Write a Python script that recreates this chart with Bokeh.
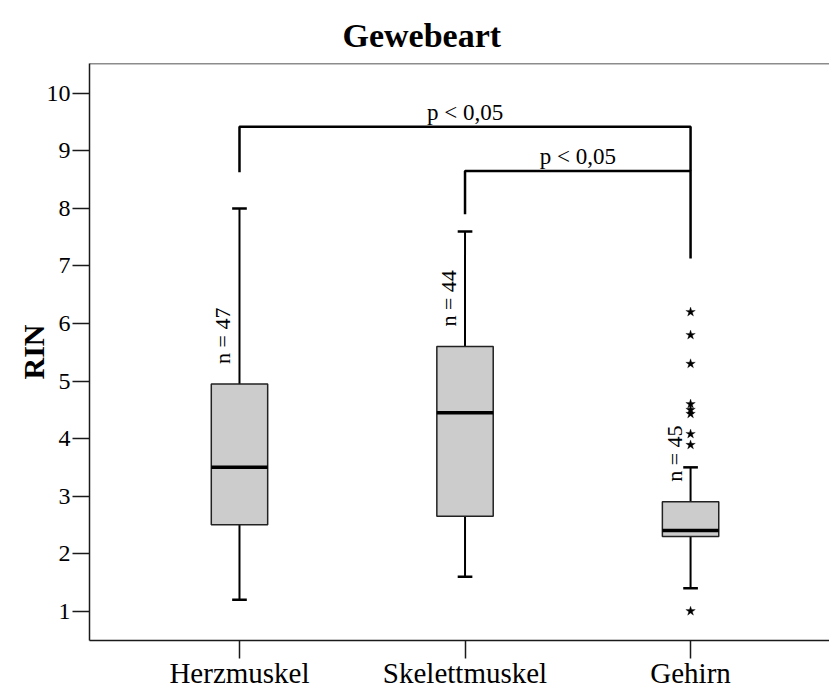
import math

from bokeh.core.properties import value
from bokeh.embed import file_html
from bokeh.models import ColumnDataSource, FixedTicker, Range1d, Span
from bokeh.plotting import figure
from bokeh.resources import INLINE

# --- data -------------------------------------------------------------------
categories = ["Herzmuskel", "Skelettmuskel", "Gehirn"]
positions = [1, 2, 3]
n_counts = [47, 44, 45]
whisker_low = [1.2, 1.6, 1.4]
q1 = [2.5, 2.65, 2.3]
median = [3.5, 4.45, 2.4]
q3 = [4.95, 5.6, 2.9]
whisker_high = [8.0, 7.6, 3.5]

# extreme values (Gehirn)
outlier_pos = [3, 3, 3, 3, 3, 3, 3, 3, 3]
outlier_values = [6.2, 5.8, 5.3, 4.6, 4.5, 4.43, 4.08, 3.89, 1.0]

y_ticks = [1, 2, 3, 4, 5, 6, 7, 8, 9, 10]
Y_MIN, Y_MAX = 0.49, 10.52
X_MIN, X_MAX = 0.335, 3.616

# significance brackets
bracket_left = [1, 2]
bracket_right = [3, 3]
bracket_top = [9.42, 8.65]
bracket_left_end = [8.63, 7.9]
bracket_right_end = [8.65, 7.13]
bracket_text = ["p < 0,05", "p < 0,05"]
bracket_text_x = [2.0, 2.5]

SERIF = "Liberation Serif"
BOX_W = 0.25
CAP_W = 0.065
INK = "#1a1a1a"

p = figure(
    width=829, height=691,
    x_range=Range1d(X_MIN, X_MAX), y_range=Range1d(Y_MIN, Y_MAX),
    output_backend="svg", toolbar_location=None,
    min_border_left=89, min_border_right=0,
    min_border_top=63, min_border_bottom=51,
)
p.background_fill_color = "white"
p.border_fill_color = "white"
p.xgrid.visible = False
p.ygrid.visible = False
p.outline_line_color = None

p.title.text = "Gewebeart"
p.title.align = "left"
p.title.offset = 253
p.title.standoff = 20
p.title.text_font = SERIF
p.title.text_font_size = "34px"
p.title.text_font_style = "bold"
p.title.text_color = "black"

# y axis
p.yaxis.ticker = FixedTicker(ticks=y_ticks)
p.yaxis.axis_label = "RIN"
p.yaxis.axis_label_text_font = SERIF
p.yaxis.axis_label_text_font_size = "30px"
p.yaxis.axis_label_text_font_style = "bold"
p.yaxis.axis_label_text_color = "black"
p.yaxis.axis_label_standoff = -6
p.yaxis.major_label_text_font = SERIF
p.yaxis.major_label_text_font_size = "24px"
p.yaxis.major_label_text_color = "black"
p.yaxis.major_tick_out = 17
p.yaxis.major_tick_in = 0
p.yaxis.minor_tick_line_color = None
p.yaxis.major_label_standoff = 2

# x axis with category names
p.xaxis.ticker = FixedTicker(ticks=positions)
p.xaxis.major_label_overrides = {pos: name for pos, name in zip(positions, categories)}
p.xaxis.major_label_text_font = SERIF
p.xaxis.major_label_text_font_size = "29px"
p.xaxis.major_label_text_color = "black"
p.xaxis.major_label_standoff = -2
p.xaxis.major_tick_out = 18
p.xaxis.major_tick_in = 0
p.xaxis.minor_tick_line_color = None

for ax in (p.xaxis, p.yaxis):
    ax.axis_line_color = INK
    ax.axis_line_width = 1.5
    ax.major_tick_line_color = INK
    ax.major_tick_line_width = 1.5

# upper frame line
p.add_layout(Span(location=Y_MAX, dimension="width", line_color=INK, line_width=1.5))

src = ColumnDataSource(dict(
    x=positions, lo=whisker_low, q1=q1, med=median, q3=q3, hi=whisker_high,
    n=[f"n = {k}" for k in n_counts],
))

# whiskers
p.segment(x0="x", y0="q3", x1="x", y1="hi", source=src, line_color="black", line_width=2)
p.segment(x0="x", y0="lo", x1="x", y1="q1", source=src, line_color="black", line_width=2)
cap_src = ColumnDataSource(dict(
    x0=[x - CAP_W / 2 for x in positions], x1=[x + CAP_W / 2 for x in positions],
    lo=whisker_low, hi=whisker_high,
))
p.segment(x0="x0", y0="hi", x1="x1", y1="hi", source=cap_src, line_color="black", line_width=2.5)
p.segment(x0="x0", y0="lo", x1="x1", y1="lo", source=cap_src, line_color="black", line_width=2.5)

# boxes and medians
p.vbar(x="x", bottom="q1", top="q3", width=BOX_W, source=src,
       fill_color="#cccccc", line_color="#222222", line_width=1.5)
med_src = ColumnDataSource(dict(
    x0=[x - BOX_W / 2 for x in positions], x1=[x + BOX_W / 2 for x in positions], y=median,
))
p.segment(x0="x0", y0="y", x1="x1", y1="y", source=med_src, line_color="black", line_width=3.5)

# sample size labels, rotated
p.text(x="x", y="q3", text="n", source=src, angle=math.pi / 2,
       x_offset=-4, y_offset=-20, text_align="left", text_baseline="bottom",
       text_font=value(SERIF), text_font_size="22px", text_color="black")

# extreme values
p.scatter(x=outlier_pos, y=outlier_values, marker="star", size=10,
          fill_color="black", line_color="black", line_width=0.3)

# significance brackets
bx = [[l, l, r, r] for l, r in zip(bracket_left, bracket_right)]
by = [[le, t, t, re] for le, t, re in zip(bracket_left_end, bracket_top, bracket_right_end)]
p.multi_line(xs=bx, ys=by, line_color="black", line_width=2.5)
p.text(x=bracket_text_x, y=bracket_top, text=bracket_text, y_offset=-2,
       text_align="center", text_baseline="bottom",
       text_font=value(SERIF), text_font_size="23px", text_color="black")

open("out.html", "w").write(file_html(p, INLINE))
